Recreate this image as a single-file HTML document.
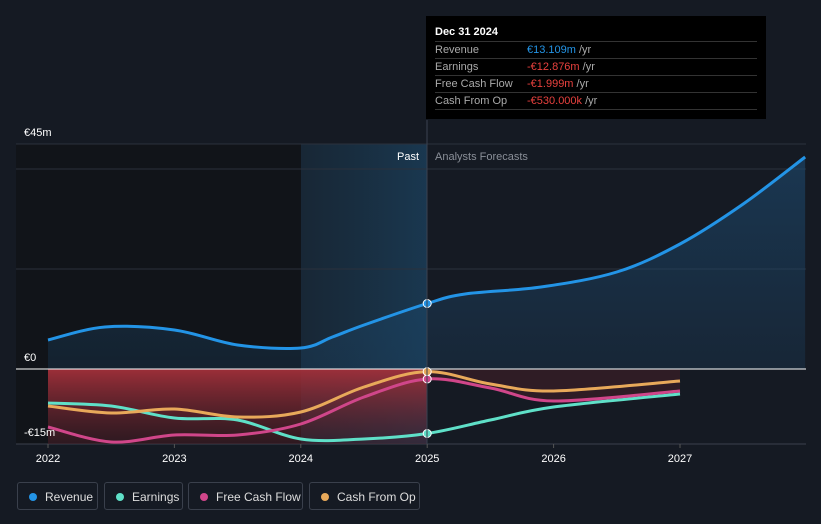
<!DOCTYPE html>
<html><head><meta charset="utf-8"><style>
body{margin:0;background:#151a23;font-family:"Liberation Sans",sans-serif;}
#wrap{position:relative;width:821px;height:524px;overflow:hidden;background:#151a23}
.tt{position:absolute;left:426px;top:16px;width:340px;height:103px;background:#000;color:#aaa;font-size:11px}
.tt .h{color:#fff;font-size:11px;font-weight:bold;position:absolute;left:9px;top:10px}
.row{position:absolute;left:9px;width:322px;border-top:1px solid #333;height:17px;line-height:17px}
.row span.v{position:absolute;left:92px}
.leg{position:absolute;top:482px;height:28px;border:1px solid #3a404c;border-radius:3px;color:#ddd;font-size:12px;line-height:28px;box-sizing:border-box;padding-left:27px}
.leg i{position:absolute;left:11px;top:10px;width:8px;height:8px;border-radius:50%}
</style></head><body>
<div id="wrap">
<svg id="svg" width="821" height="524" style="position:absolute;left:0;top:0">
<defs>
<linearGradient id="hl" x1="0" x2="1" y1="0" y2="0"><stop offset="0" stop-color="#1a3448" stop-opacity="0.5"/><stop offset="1" stop-color="#1a3b55" stop-opacity="0.9"/></linearGradient>
<linearGradient id="red" x1="0" x2="0" y1="0" y2="1"><stop offset="0" stop-color="#a3303a" stop-opacity="0.95"/><stop offset="1" stop-color="#4a1e28" stop-opacity="0.5"/></linearGradient>
<linearGradient id="blu" x1="0" x2="0" y1="0" y2="1"><stop offset="0" stop-color="#1d4a70" stop-opacity="0.6"/><stop offset="1" stop-color="#1d4a70" stop-opacity="0.25"/></linearGradient>
</defs>
<rect x="16" y="144" width="285" height="300" fill="#111419"/>
<rect x="301" y="144" width="126" height="300" fill="url(#hl)"/>
<g id="grid"></g>
<g id="areas"></g>
<g id="lines"></g>
<text x="419" y="160" fill="#fff" font-size="11" text-anchor="end">Past</text>
<text x="435" y="160" fill="#8a8f98" font-size="11">Analysts Forecasts</text>
<line x1="427" y1="120" x2="427" y2="444" stroke="#3a4250" stroke-width="1"/>
</svg>
<div class="tt">
<div class="h">Dec 31 2024</div>
<div class="row" style="top:25px">Revenue<span class="v"><span style="color:#2394e6">€13.109m</span> /yr</span></div>
<div class="row" style="top:42px">Earnings<span class="v"><span style="color:#e8413e">-€12.876m</span> /yr</span></div>
<div class="row" style="top:59px">Free Cash Flow<span class="v"><span style="color:#e8413e">-€1.999m</span> /yr</span></div>
<div class="row" style="top:76px">Cash From Op<span class="v"><span style="color:#e8413e">-€530.000k</span> /yr</span></div>
<div class="row" style="top:93px;height:0"></div>
</div>
<div class="leg" style="left:17px;width:81px"><i style="background:#2394e6"></i>Revenue</div>
<div class="leg" style="left:104px;width:79px"><i style="background:#5fe0c8"></i>Earnings</div>
<div class="leg" style="left:188px;width:115px"><i style="background:#d0468a"></i>Free Cash Flow</div>
<div class="leg" style="left:309px;width:111px"><i style="background:#e8a95a"></i>Cash From Op</div>
</div>
<script>
const yTicks=[45,0,-15];
const yTickLabels=["€45m","€0","-€15m"];
const xTicks=[2022,2023,2024,2025,2026,2027];
const revX=[2022,2022.45,2023,2023.5,2024,2024.25,2024.5,2025,2025.3,2025.9,2026.5,2027,2027.5,2027.99];
const revY=[5.8,8.4,7.8,4.8,4.2,6.4,8.8,13.1,15,16.4,19.4,25,33,42.4];
const earnX=[2022,2022.5,2023,2023.5,2024,2024.5,2025,2025.5,2026,2027];
const earnY=[-6.8,-7.4,-9.8,-10.2,-14,-14,-12.9,-10.2,-7.6,-5];
const fcfX=[2022,2022.5,2023,2023.5,2024,2024.5,2025,2025.5,2026,2027];
const fcfY=[-11.6,-14.6,-13.2,-13.2,-11,-5.6,-2,-3.8,-6.4,-4.4];
const cfoX=[2022,2022.5,2023,2023.5,2024,2024.5,2025,2025.5,2026,2027];
const cfoY=[-7.4,-8.8,-8,-9.6,-8.6,-3.6,-0.53,-3,-4.4,-2.4];
const X=v=>48+(v-2022)*126.4;
const Y=v=>369-v*5;
const NS='http://www.w3.org/2000/svg';
function mk(t,a,p){const e=document.createElementNS(NS,t);for(const k in a)e.setAttribute(k,a[k]);p.appendChild(e);return e;}
function path(xs,ys){const P=xs.map((x,i)=>[X(x),Y(ys[i])]);let d='M'+P[0][0]+','+P[0][1];
for(let i=0;i<P.length-1;i++){const p0=P[Math.max(0,i-1)],p1=P[i],p2=P[i+1],p3=P[Math.min(P.length-1,i+2)];
const c1x=p1[0]+(p2[0]-p0[0])/6,c1y=p1[1]+(p2[1]-p0[1])/6,c2x=p2[0]-(p3[0]-p1[0])/6,c2y=p2[1]-(p3[1]-p1[1])/6;
d+=' C'+c1x+','+c1y+' '+c2x+','+c2y+' '+p2[0]+','+p2[1];}return d;}
const grid=document.getElementById('grid'),areas=document.getElementById('areas'),lines=document.getElementById('lines'),svg=document.getElementById('svg');
[45,40,20].forEach(v=>{mk('line',{x1:16,x2:806,y1:Y(v),y2:Y(v),stroke:'#2b313c'},grid);});
const bl=mk('line',{x1:16,x2:806,y1:Y(-15),y2:Y(-15),stroke:'#3a404c'},grid);

yTicks.forEach((v,i)=>{const t=mk('text',{x:24,y:Y(v)-8,fill:'#fff','font-size':11},svg);t.textContent=yTickLabels[i];
});
xTicks.forEach(v=>{mk('line',{x1:X(v),x2:X(v),y1:Y(-15),y2:Y(-15)+4,stroke:'#555'},grid);const t=mk('text',{x:X(v),y:462,fill:'#fff','font-size':11,'text-anchor':'middle'},svg);t.textContent=v;
});
const ra=mk('path',{d:path(revX,revY)+' L'+X(revX[revX.length-1])+','+Y(0)+' L'+X(revX[0])+','+Y(0)+'Z',fill:'url(#blu)'},areas);

const rd=mk('rect',{x:X(2022),y:Y(0),width:X(2025)-X(2022),height:Y(-15)-Y(0),fill:'url(#red)'},areas);

const rd2=mk('path',{d:path(fcfX.slice(6),fcfY.slice(6))+' L'+X(2027)+','+Y(0)+' L'+X(2025)+','+Y(0)+'Z',fill:'#3a1e26',opacity:0.7},areas);

const zl=mk('line',{x1:16,x2:806,y1:Y(0),y2:Y(0),stroke:'#fff','stroke-width':1},lines);

const series=[['earnings',earnX,earnY,'#5fe0c8'],['free-cash-flow',fcfX,fcfY,'#d0468a'],['cash-from-op',cfoX,cfoY,'#e8a95a'],['revenue',revX,revY,'#2394e6']];
series.forEach(s=>{const p=mk('path',{d:path(s[1],s[2]),fill:'none',stroke:s[3],'stroke-width':3},lines);

const i=s[1].indexOf(2025);const c=mk('circle',{cx:X(2025),cy:Y(s[2][i]),r:4,fill:s[3],stroke:'#fff','stroke-width':1},lines);
});
</script>
</body></html>
